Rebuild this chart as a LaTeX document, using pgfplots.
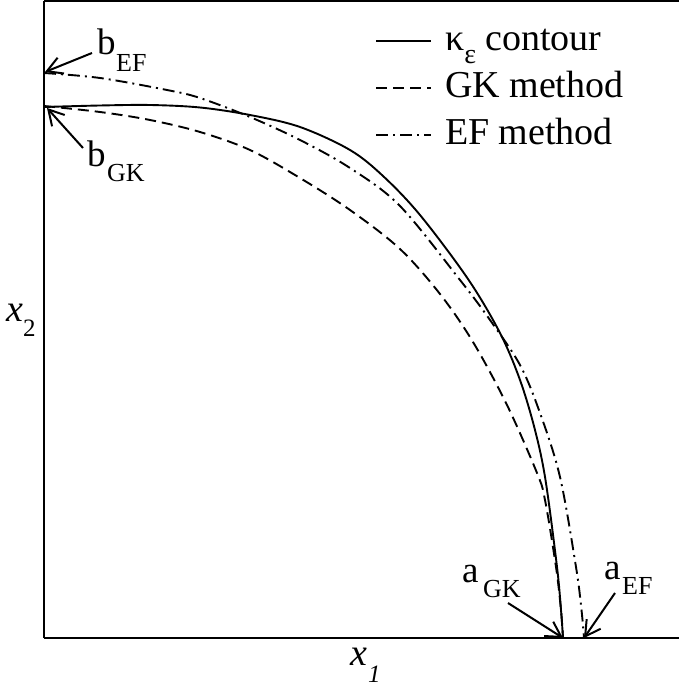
\documentclass[border=0pt]{standalone}
\usepackage{fontspec}
\setmainfont{Liberation Serif}
\usepackage{pgfplots}
\pgfplotsset{compat=1.18}
\usetikzlibrary{arrows.meta}

% pixel-like units: x = px - 44, y = 638 - py
\newcommand{\bigf}{\fontsize{37}{39}\selectfont}
\newcommand{\subf}{\fontsize{26}{28}\selectfont}

\begin{document}
\begin{tikzpicture}
\begin{axis}[
    at={(0,0)}, anchor=south west,
    scale only axis,
    width=635pt, height=637pt,
    xmin=0, xmax=635, ymin=0, ymax=637,
    axis x line*=box, axis y line*=left,
    axis line style={line width=2.6pt},
    ticks=none,
    clip=false,
    legend image code/.code={\draw[#1] (0pt,0pt) -- (55pt,0pt);},
    legend cell align=left,
    legend style={
        at={(axis cs:331,614)}, anchor=north west,
        draw=none, fill=none,
        inner sep=0pt,
        font=\fontsize{38}{40}\selectfont,
        row sep=13pt,
        column sep=0pt,
        nodes={inner sep=0pt, text height=26pt, text depth=8pt},
        /tikz/every odd column/.append style={column sep=13pt},
    },
]

% kappa_epsilon contour
\addplot[smooth, tension=0.55, line width=1.9pt] coordinates {
    (0,531) (56,532.5) (106,533) (156,530.5) (206,523) (256,511)
    (306,488) (339,462) (376,423) (424,359) (456,305)
    (476,258) (491,208) (501.5,158) (513,71) (517,28) (519,0)
};
\addlegendentry{κ\raisebox{-13pt}{\fontsize{28}{28}\selectfont ε} contour}

% GK method
\addplot[smooth, tension=0.55, line width=1.9pt, dash pattern=on 11pt off 6pt] coordinates {
    (0,532) (56,526) (106,518) (156,506) (206,488) (256,460)
    (306,428) (356,389) (396,344) (429,296) (463,233) (493,165)
    (501,138) (512,71) (517,28) (519,0)
};
\addlegendentry{GK method}

% EF method
\addplot[smooth, tension=0.55, line width=1.9pt, dash pattern=on 12pt off 5pt on 2pt off 5pt] coordinates {
    (0,565) (56,560) (123,548) (156,540) (206,521) (256,498)
    (306,470) (356,432) (416,358) (446,318) (476,273) (496,225)
    (516,161) (532,71) (537.5,28) (540,0)
};
\addlegendentry{EF method}

% labels with arrows
\draw[line width=2pt, -{Straight Barb[length=15pt, width=17pt, line width=2pt]}] (axis cs:48,585) -- (axis cs:1,566);
\draw[line width=2pt, -{Straight Barb[length=15pt, width=17pt, line width=2pt]}] (axis cs:39,490) -- (axis cs:3,530);
\draw[line width=2pt, -{Straight Barb[length=15pt, width=17pt, line width=2pt]}] (axis cs:464,35) -- (axis cs:519,0);
\draw[line width=2pt, -{Straight Barb[length=15pt, width=17pt, line width=2pt]}] (axis cs:571,45) -- (axis cs:540,0);

\node[anchor=base west, inner sep=0pt, font=\bigf] at (axis cs:53,583) {b};
\node[anchor=base west, inner sep=0pt, font=\subf] at (axis cs:72,566) {EF};
\node[anchor=base west, inner sep=0pt, font=\bigf] at (axis cs:43,471) {b};
\node[anchor=base west, inner sep=0pt, font=\subf] at (axis cs:63,456) {GK};
\node[anchor=base west, inner sep=0pt, font=\bigf] at (axis cs:418,55) {a};
\node[anchor=base west, inner sep=0pt, font=\subf] at (axis cs:439,40) {GK};
\node[anchor=base west, inner sep=0pt, font=\bigf] at (axis cs:560,58) {a};
\node[anchor=base west, inner sep=0pt, font=\subf] at (axis cs:578,43) {EF};

% axis labels
\node[anchor=base west, inner sep=0pt, font=\fontsize{38}{40}\selectfont\itshape] at (axis cs:306,-27) {x};
\node[anchor=base west, inner sep=0pt, font=\fontsize{25}{27}\selectfont\itshape] at (axis cs:324,-44) {1};
\node[anchor=base west, inner sep=0pt, font=\fontsize{38}{40}\selectfont\itshape] at (axis cs:-38,316) {x};
\node[anchor=base west, inner sep=0pt, font=\fontsize{25}{27}\selectfont] at (axis cs:-21,301) {2};
\end{axis}
\pgfresetboundingbox
\path[use as bounding box] (-44pt,-50pt) rectangle (635pt,638pt);
\end{tikzpicture}
\end{document}
